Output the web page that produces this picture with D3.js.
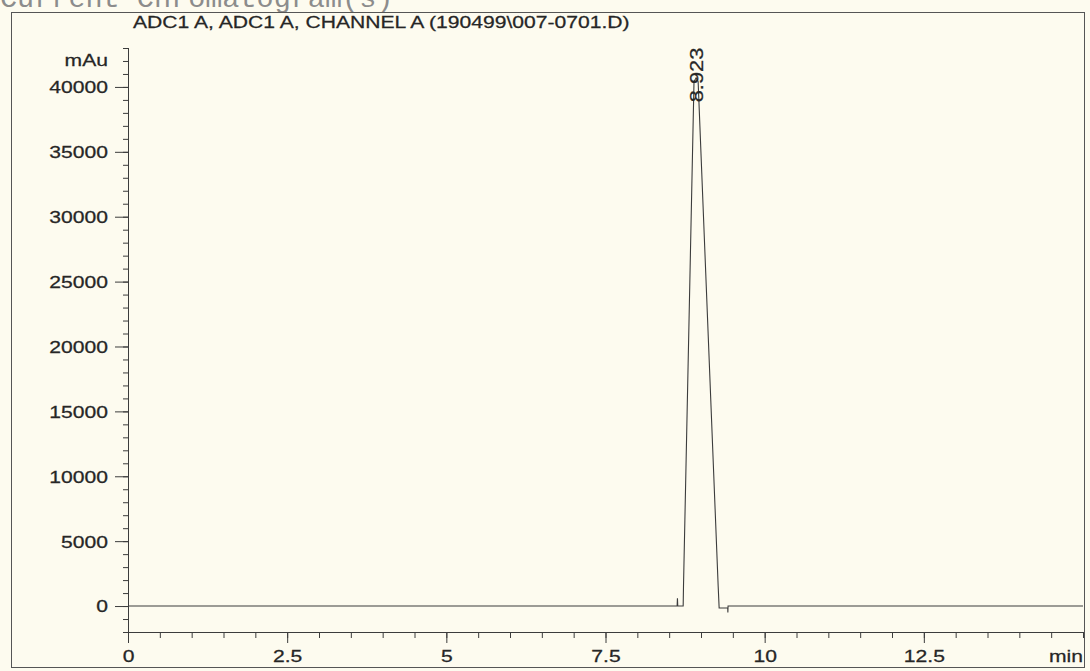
<!DOCTYPE html>
<html>
<head>
<meta charset="utf-8">
<script src="https://cdn.jsdelivr.net/npm/d3@7"></script>
<style>
  html, body { margin: 0; padding: 0; background: #fdfbef; }
  svg { display: block; }
  text { font-family: "Liberation Sans", Arial, sans-serif; fill: #262626; stroke: #262626; stroke-width: 0.25px; }
</style>
</head>
<body>
<svg id="chart" width="1090" height="671"></svg>
<script>
// Chromatogram trace: retention time (min) and detector response (mAu)
const retentionTimes = [0, 8.625, 8.63, 8.635, 8.72, 8.725, 8.89, 8.923, 8.955, 9.27, 9.285, 9.42, 9.422, 9.425, 15];
const absorbance     = [0, 0,     600,  0,     0,    1500,  40400, 40700, 40400, 1500, -150,  -150, -500,  0,     0];

// Peak annotations
const peakTimes = [8.923];
const peakLabels = ["8.923"];

// Axis ticks
const yMajorTicks = [0, 5000, 10000, 15000, 20000, 25000, 30000, 35000, 40000];
const yMinorTicks = d3.range(-2000, 43001, 1000);
const xMajorTicks = [0, 2.5, 5, 7.5, 10, 12.5];
const xMinorTicks = d3.range(0, 15.01, 0.5);

const headerText = "Current Chromatogram(s)";
const titleText = "ADC1 A, ADC1 A, CHANNEL A (190499\\007-0701.D)";
const yUnit = "mAu";
const xUnit = "min";

const svg = d3.select("#chart");
const ink = "#3c3c3c";
const stretch = 1.28; // horizontal stretch of the printed lettering

const x = d3.scaleLinear().domain([0, 15]).range([128, 1083]);
const y = d3.scaleLinear().domain([-2000, 43000]).range([632, 48]);

// Page header (runs off the top edge of the page)
svg.append("text")
  .attr("x", 0).attr("y", 7)
  .style("font-family", "'Liberation Mono', 'Courier New', monospace")
  .style("font-size", "28.5px")
  .style("fill", "#8c8c8c")
  .style("stroke", "none")
  .text(headerText);

// Outer frame
svg.append("rect")
  .attr("x", 11.5).attr("y", 12.5)
  .attr("width", 1073).attr("height", 655)
  .attr("fill", "none").attr("stroke", "#555").attr("stroke-width", 1);

// Signal title
svg.append("text")
  .attr("transform", `translate(133,28) scale(${stretch},1)`)
  .style("font-size", "16.5px")
  .text(titleText);

// Y axis: minor ticks, then major ticks with labels
svg.append("g")
  .attr("transform", `translate(${x(0)},0)`)
  .call(d3.axisLeft(y).tickValues(yMinorTicks).tickSize(5).tickFormat(""))
  .call(g => g.select(".domain").remove())
  .selectAll("line").attr("stroke", ink);

const yAxis = svg.append("g")
  .attr("transform", `translate(${x(0)},0)`)
  .call(d3.axisLeft(y).tickValues(yMajorTicks).tickSize(13).tickPadding(0).tickFormat(d3.format("d")));
yAxis.select(".domain").remove();
yAxis.selectAll("line").attr("stroke", ink);
yAxis.selectAll("text")
  .attr("x", -20 / stretch)
  .attr("dy", "0.36em")
  .attr("transform", `scale(${stretch},1)`)
  .style("font-size", "16.5px")
  .style("font-family", "'Liberation Sans', Arial, sans-serif");

svg.append("line")
  .attr("x1", x(0) + 0.5).attr("x2", x(0) + 0.5)
  .attr("y1", 48).attr("y2", 643)
  .attr("stroke", ink);

svg.append("text")
  .attr("transform", `translate(108,66) scale(${stretch},1)`)
  .attr("text-anchor", "end")
  .style("font-size", "16.5px")
  .text(yUnit);

// X axis: minor ticks, then major ticks with labels
const xBase = 632;
svg.append("g")
  .attr("transform", `translate(0,${xBase})`)
  .call(d3.axisBottom(x).tickValues(xMinorTicks).tickSize(6).tickFormat(""))
  .call(g => g.select(".domain").remove())
  .selectAll("line").attr("stroke", ink);

const xAxis = svg.append("g")
  .attr("transform", `translate(0,${xBase})`)
  .call(d3.axisBottom(x).tickValues(xMajorTicks).tickSize(11).tickFormat(d3.format("")));
xAxis.select(".domain").remove();
xAxis.selectAll("line").attr("stroke", ink);
xAxis.selectAll("text")
  .attr("y", 30).attr("dy", 0)
  .attr("transform", `scale(${stretch},1)`)
  .style("font-size", "16.5px")
  .style("font-family", "'Liberation Sans', Arial, sans-serif");

svg.append("line")
  .attr("x1", x(0)).attr("x2", 1084)
  .attr("y1", xBase + 0.5).attr("y2", xBase + 0.5)
  .attr("stroke", ink);

svg.append("text")
  .attr("transform", `translate(1083,662) scale(${stretch},1)`)
  .attr("text-anchor", "end")
  .style("font-size", "16.5px")
  .text(xUnit);

// Detector trace
const points = retentionTimes.map((t, i) => [t, absorbance[i]]);
svg.append("path")
  .datum(points)
  .attr("fill", "none")
  .attr("stroke", ink)
  .attr("stroke-width", 1.1)
  .attr("d", d3.line().x(d => x(d[0])).y(d => y(d[1])));

// Retention time label above each peak
svg.selectAll(".peak-label")
  .data(peakTimes)
  .join("text")
  .attr("class", "peak-label")
  .attr("transform", d => `translate(${x(d) + 6.5},75) rotate(-90) scale(1.15,1)`)
  .attr("text-anchor", "middle")
  .style("font-size", "19px")
  .text((d, i) => peakLabels[i]);
</script>
</body>
</html>
